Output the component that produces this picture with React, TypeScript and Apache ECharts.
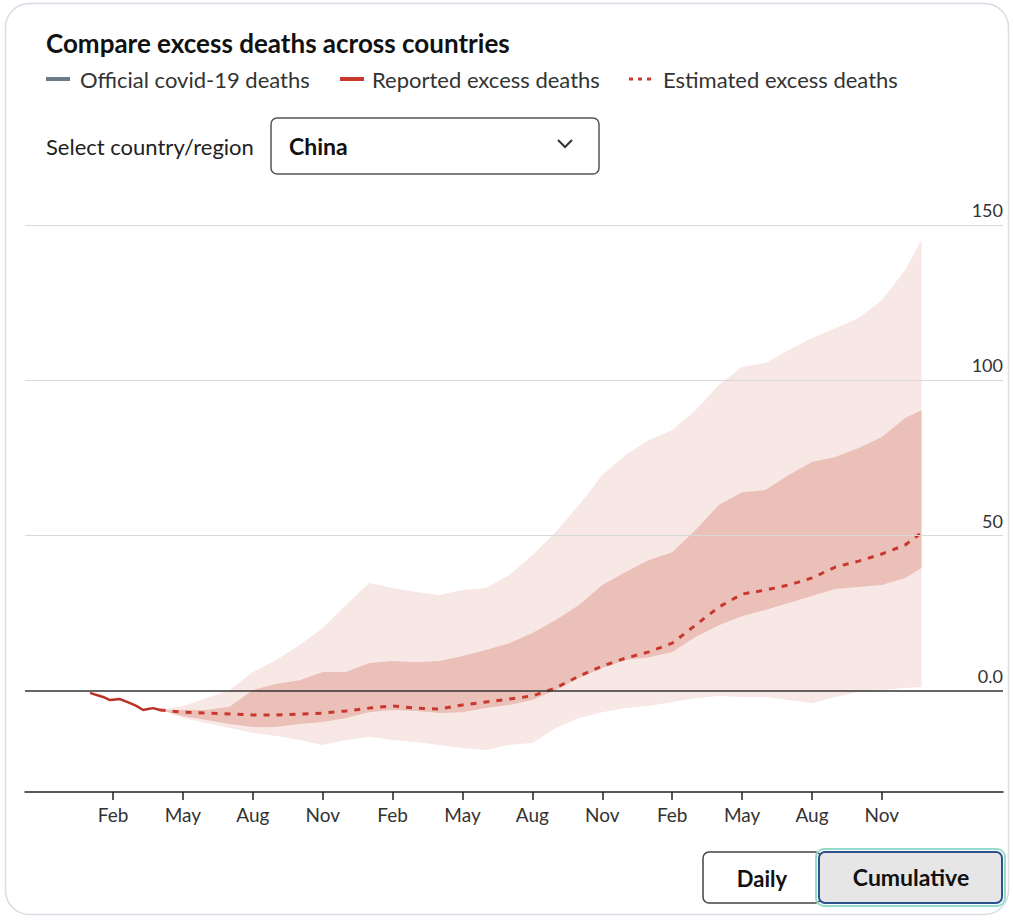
import React, { useEffect, useRef } from "react";
import * as echarts from "echarts";

// x values are months since 1 Feb 2020
const tickMonths = [0, 3, 6, 9, 12, 15, 18, 21, 24, 27, 30, 33];
const tickLabels = ["Feb", "May", "Aug", "Nov", "Feb", "May", "Aug", "Nov", "Feb", "May", "Aug", "Nov"];
const gridValues = [0, 50, 100, 150];
const gridLabels = ["0.0", "50", "100", "150"];

const reportedX = [-0.99, -0.7, -0.43, -0.13, 0.3, 0.73, 1.0, 1.29, 1.5, 1.72, 2.02];
const reportedY = [-0.6, -1.3, -1.9, -2.9, -2.6, -3.9, -4.8, -6.1, -5.8, -5.5, -6.1];

const estX = [2, 3, 4, 5, 6, 7, 8, 9, 10, 11, 12, 13, 14, 15, 16, 17, 18, 19, 20, 21, 22, 23, 24, 25, 26, 27, 28, 29, 30, 31, 32, 33, 34, 34.7];
const estimated = [-6.1, -6.8, -7.1, -7.4, -7.7, -7.7, -7.4, -7.1, -6.4, -5.5, -4.8, -5.5, -5.8, -4.5, -3.5, -2.6, -1.6, 1.0, 4.8, 8.0, 10.6, 12.6, 15.4, 21.2, 27.0, 31.2, 32.5, 34.1, 36.4, 39.9, 41.8, 44.1, 47.0, 50.9];
const innerHigh = [-6.1, -6.1, -6.1, -5.1, 0.3, 2.3, 3.5, 6.1, 6.1, 9.0, 9.7, 9.3, 9.7, 11.3, 13.2, 15.4, 18.7, 22.9, 27.7, 34.1, 38.3, 42.2, 44.7, 51.8, 59.9, 64.0, 64.7, 69.5, 73.7, 75.3, 78.2, 81.8, 87.9, 90.4];
const innerLow = [-6.1, -8.0, -9.3, -10.6, -11.6, -11.6, -10.6, -10.0, -8.7, -6.8, -6.1, -6.4, -7.1, -6.8, -5.5, -4.5, -2.9, 0.3, 4.2, 7.4, 10.0, 10.9, 12.6, 17.4, 21.2, 24.1, 26.1, 28.3, 30.6, 32.8, 33.5, 34.1, 36.4, 39.6];
const outerHigh = [-6.1, -4.8, -2.3, 0.3, 6.1, 10.0, 14.8, 20.3, 27.7, 34.8, 33.2, 31.9, 30.9, 32.5, 33.2, 37.3, 43.8, 51.2, 59.9, 69.5, 76.0, 80.8, 84.0, 90.4, 98.5, 104.3, 105.6, 109.8, 113.6, 116.8, 120.1, 125.8, 135.5, 145.2];
const outerLow = [-6.1, -8.7, -10.3, -11.9, -13.5, -14.5, -15.8, -17.4, -15.8, -14.8, -15.8, -16.4, -17.4, -18.3, -19.0, -17.4, -16.7, -11.9, -8.7, -6.8, -5.5, -4.8, -3.5, -2.3, -1.6, -1.9, -1.9, -2.9, -3.9, -1.9, -0.3, 0.3, 1.0, 1.3];

const FONT = "Lato, 'Open Sans', sans-serif";

function pairs(xs: number[], ys: number[]) {
  return xs.map((x, i) => [x, ys[i]]);
}

function bandSeries(high: number[], low: number[], fill: string, z: number) {
  return {
    type: "custom",
    z,
    silent: true,
    clip: true,
    data: [[estX[0], high[0]]],
    renderItem: (_params: any, api: any) => {
      const pts: number[][] = [];
      for (let i = 0; i < estX.length; i++) pts.push(api.coord([estX[i], high[i]]));
      for (let i = estX.length - 1; i >= 0; i--) pts.push(api.coord([estX[i], low[i]]));
      return { type: "polygon", shape: { points: pts }, style: { fill, stroke: "none" } };
    },
  };
}

export default function App() {
  const ref = useRef<HTMLDivElement>(null);
  useEffect(() => {
    if (!ref.current) return;
    const chart = echarts.init(ref.current, null, { renderer: "svg" });
    const option: any = {
      animation: false,
      grid: { left: 25, right: 10, top: 225, bottom: 128 },
      xAxis: {
        type: "value",
        min: -3.78,
        max: 38.2,
        splitLine: { show: false },
        axisLine: { show: true, onZero: false, lineStyle: { color: "#222", width: 1.5 } },
        axisTick: { show: true, length: 8, customValues: tickMonths, lineStyle: { color: "#222", width: 1.5 } },
        axisLabel: {
          customValues: tickMonths,
          formatter: (v: number) => tickLabels[tickMonths.indexOf(Math.round(v))] ?? "",
          fontSize: 19,
          color: "#333",
          fontFamily: FONT,
          margin: 13,
        },
      },
      yAxis: {
        type: "value",
        min: -32.5,
        max: 150,
        show: false,
        splitLine: { show: false },
      },
      series: [
        bandSeries(outerHigh, outerLow, "#f8e8e5", 1),
        bandSeries(innerHigh, innerLow, "#ebc0b8", 2),
        {
          type: "line", z: 3, data: [], silent: true,
          markLine: {
            symbol: "none", silent: true, animation: false,
            label: { position: "insideEndTop", fontSize: 18, color: "#333", fontFamily: FONT, distance: 6, offset: [6, 0] },
            data: gridValues.map((v, i) => ({
              yAxis: v,
              lineStyle: v === 0 ? { color: "#333", width: 1.5, type: "solid" } : { color: "#d9d9d9", width: 1.2, type: "solid" },
              label: { formatter: gridLabels[i] },
            })),
          },
        },
        {
          name: "Estimated excess deaths",
          type: "line", z: 4, data: pairs(estX, estimated), showSymbol: false, symbol: "none",
          lineStyle: { color: "#c8382e", width: 3, type: [6, 7] },
        },
        {
          name: "Reported excess deaths",
          type: "line", z: 4, data: pairs(reportedX, reportedY), showSymbol: false, symbol: "none",
          lineStyle: { color: "#b83226", width: 2.5 },
        },
      ],
      graphic: [
        {
          type: "rect", z: -10, silent: true,
          shape: { x: 5.5, y: 3.5, width: 1003, height: 911, r: 24 },
          style: { fill: "none", stroke: "#d6dde4", lineWidth: 1.5 },
        },
        {
          type: "text", x: 46, y: 43,
          style: { text: "Compare excess deaths across countries", font: `bold 26px ${FONT}`, fill: "#111", verticalAlign: "middle" },
        },
        { type: "line", shape: { x1: 46, y1: 79, x2: 70, y2: 79 }, style: { stroke: "#6e7b85", lineWidth: 4 } },
        {
          type: "text", x: 80, y: 79,
          style: { text: "Official covid-19 deaths", font: `22px ${FONT}`, fill: "#333", verticalAlign: "middle" },
        },
        { type: "line", shape: { x1: 340, y1: 79, x2: 364, y2: 79 }, style: { stroke: "#c8382e", lineWidth: 4 } },
        {
          type: "text", x: 372, y: 79,
          style: { text: "Reported excess deaths", font: `22px ${FONT}`, fill: "#333", verticalAlign: "middle" },
        },
        { type: "line", shape: { x1: 629, y1: 79, x2: 655, y2: 79 }, style: { stroke: "#c8382e", lineWidth: 3, lineDash: [4, 5] } },
        {
          type: "text", x: 663, y: 79,
          style: { text: "Estimated excess deaths", font: `22px ${FONT}`, fill: "#333", verticalAlign: "middle" },
        },
        {
          type: "text", x: 46, y: 146,
          style: { text: "Select country/region", font: `22px ${FONT}`, fill: "#222", verticalAlign: "middle" },
        },
        {
          type: "rect", shape: { x: 271, y: 118, width: 328, height: 56, r: 6 },
          style: { fill: "#fff", stroke: "#555", lineWidth: 1.5 },
        },
        {
          type: "text", x: 289, y: 146,
          style: { text: "China", font: `bold 23px ${FONT}`, fill: "#111", verticalAlign: "middle" },
        },
        {
          type: "polyline", shape: { points: [[558, 140], [565, 147], [572, 140]] },
          style: { stroke: "#333", lineWidth: 2, fill: "none" },
        },
        {
          type: "rect", shape: { x: 703, y: 852, width: 118, height: 51, r: 6 },
          style: { fill: "#fff", stroke: "#444", lineWidth: 1.5 },
        },
        {
          type: "text", x: 762, y: 878,
          style: { text: "Daily", font: `bold 22px ${FONT}`, fill: "#111", align: "center", verticalAlign: "middle" },
        },
        {
          type: "rect", shape: { x: 816, y: 849, width: 189, height: 57, r: 8 },
          style: { fill: "none", stroke: "#93dccb", lineWidth: 2 },
        },
        {
          type: "rect", shape: { x: 819, y: 852, width: 183, height: 51, r: 6 },
          style: { fill: "#e6e6e6", stroke: "#2f4f8f", lineWidth: 2 },
        },
        {
          type: "text", x: 911, y: 877,
          style: { text: "Cumulative", font: `bold 23px ${FONT}`, fill: "#111", align: "center", verticalAlign: "middle" },
        },
      ],
    };
    chart.setOption(option);
    return () => chart.dispose();
  }, []);
  return (
    <div
      ref={ref}
      style={{ position: "absolute", left: 0, top: 0, width: 1013, height: 920, background: "#fff" }}
    />
  );
}
